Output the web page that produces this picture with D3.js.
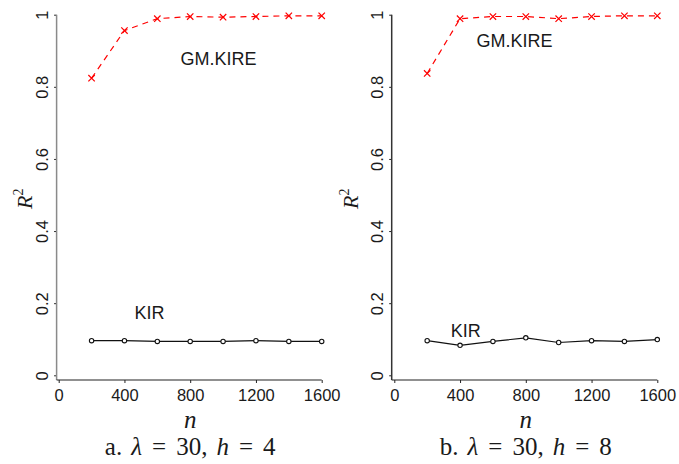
<!DOCTYPE html>
<html>
<head>
<meta charset="utf-8">
<script src="https://d3js.org/d3.v7.min.js"></script>
<style>
  body { margin: 0; background: #fff; }
  svg text { fill: #1a1a1a; }
  .tick text { font-family: "Liberation Sans", Arial, sans-serif; font-size: 16.5px; }
  .lbl { font-family: "Liberation Sans", Arial, sans-serif; font-size: 18px; }
  .math { font-family: "Liberation Serif", "DejaVu Serif", serif; }
</style>
</head>
<body>
<svg id="chart" width="679" height="464"></svg>
<script>
// sample sizes on x axis
var nValues = [200, 400, 600, 800, 1000, 1200, 1400, 1600];
var xTicks = [0, 400, 800, 1200, 1600];
var yTicks = [0, 0.2, 0.4, 0.6, 0.8, 1];

// panel a: lambda = 30, h = 4
var kireA = [0.824, 0.956, 0.989, 0.995, 0.993, 0.995, 0.997, 0.997];
var kirA  = [0.096, 0.096, 0.094, 0.094, 0.094, 0.096, 0.094, 0.094];

// panel b: lambda = 30, h = 8
var kireB = [0.837, 0.989, 0.995, 0.995, 0.989, 0.995, 0.997, 0.997];
var kirB  = [0.096, 0.083, 0.094, 0.104, 0.091, 0.096, 0.094, 0.099];

var svg = d3.select("#chart");

var panels = [
    { left: 58.7, axisX: 56.6, axisColor: "#8a8a8a", kire: kireA, kir: kirA,
      capLetter: "a.", h: "4", kireLbl: [972, 0.861], kirLbl: [552, 0.156], rx: 32 },
    { left: 394.3, axisX: 391.7, axisColor: "#333", kire: kireB, kir: kirB,
      capLetter: "b.", h: "8", kireLbl: [732, 0.911], kirLbl: [434, 0.107], rx: 358 }
];

var plotW = 263, plotTop = 14.7, plotBottom = 375.3, xAxisY = 380;

panels.forEach(function(p) {
    var g = svg.append("g");

    var xScale = d3.scaleLinear().domain([0, 1600]).range([p.left, p.left + plotW]);
    var yScale = d3.scaleLinear().domain([0, 1]).range([plotBottom, plotTop]);

    // Y axis
    var yAxis = g.append("g")
        .attr("transform", "translate(" + p.axisX + ",0)")
        .call(d3.axisLeft(yScale).tickValues(yTicks).tickSize(2.5)
            .tickFormat(function(d) { return d3.format("~g")(d); }));
    yAxis.select(".domain").remove();
    yAxis.selectAll(".tick line").attr("stroke", "#222");
    yAxis.selectAll(".tick text")
        .attr("x", null).attr("dy", null)
        .attr("text-anchor", "middle")
        .attr("transform", "translate(-9,0) rotate(-90)");
    g.append("line")
        .attr("x1", p.axisX).attr("x2", p.axisX)
        .attr("y1", plotTop).attr("y2", xAxisY)
        .attr("stroke", p.axisColor).attr("stroke-width", 1.5);

    // X axis
    var xAxis = g.append("g")
        .attr("transform", "translate(0," + xAxisY + ")")
        .call(d3.axisBottom(xScale).tickValues(xTicks).tickSize(3).tickPadding(6)
            .tickFormat(d3.format("d")));
    xAxis.select(".domain").remove();
    xAxis.selectAll(".tick line").attr("stroke", "#222");
    g.append("line")
        .attr("x1", p.axisX).attr("x2", xScale(1600))
        .attr("y1", xAxisY).attr("y2", xAxisY)
        .attr("stroke", "#222").attr("stroke-width", 1.2);

    var line = d3.line()
        .x(function(d, i) { return xScale(nValues[i]); })
        .y(function(d) { return yScale(d); });

    // GM.KIRE: red dashed with x markers
    g.append("path").datum(p.kire)
        .attr("d", line).attr("fill", "none")
        .attr("stroke", "#ff0000").attr("stroke-width", 1.2)
        .attr("stroke-dasharray", "6,5");
    g.append("g").selectAll("path").data(p.kire).enter().append("path")
        .attr("d", function(d, i) {
            var cx = xScale(nValues[i]), cy = yScale(d), s = 3.2;
            return "M" + (cx - s) + "," + (cy - s) + "L" + (cx + s) + "," + (cy + s) +
                   "M" + (cx - s) + "," + (cy + s) + "L" + (cx + s) + "," + (cy - s);
        })
        .attr("stroke", "#ff0000").attr("stroke-width", 1.2);

    // KIR: black solid with open circles
    g.append("path").datum(p.kir)
        .attr("d", line).attr("fill", "none")
        .attr("stroke", "#111").attr("stroke-width", 1.2);
    g.append("g").selectAll("circle").data(p.kir).enter().append("circle")
        .attr("cx", function(d, i) { return xScale(nValues[i]); })
        .attr("cy", function(d) { return yScale(d); })
        .attr("r", 2.2)
        .attr("fill", "#fff").attr("stroke", "#111").attr("stroke-width", 1.1);

    // series labels
    g.append("text").attr("class", "lbl")
        .attr("x", xScale(p.kireLbl[0])).attr("y", yScale(p.kireLbl[1]))
        .attr("text-anchor", "middle").text("GM.KIRE");
    g.append("text").attr("class", "lbl")
        .attr("x", xScale(p.kirLbl[0])).attr("y", yScale(p.kirLbl[1]))
        .attr("text-anchor", "middle").text("KIR");

    // axis titles
    var yt = g.append("text").attr("class", "math")
        .attr("transform", "translate(" + p.rx + ",209) rotate(-90)")
        .style("font-size", "22px");
    yt.append("tspan").style("font-style", "italic").text("R");
    yt.append("tspan").attr("dy", -9).style("font-size", "14px").text("2");

    g.append("text").attr("class", "math")
        .attr("x", xScale(800)).attr("y", 428)
        .attr("text-anchor", "middle")
        .style("font-size", "25px").style("font-style", "italic").text("n");

    // caption, math-style spacing around "="
    var cap = g.append("text").attr("class", "math")
        .attr("x", xScale(800)).attr("y", 455)
        .attr("text-anchor", "middle")
        .style("font-size", "25px");
    var parts = [
        { t: p.capLetter, dx: 0, it: false },
        { t: "\u03bb", dx: 9, it: true },
        { t: "=", dx: 10, it: false },
        { t: "30,", dx: 10, it: false },
        { t: "h", dx: 9, it: true },
        { t: "=", dx: 10, it: false },
        { t: p.h, dx: 10, it: false }
    ];
    parts.forEach(function(s) {
        cap.append("tspan").attr("dx", s.dx)
            .style("font-style", s.it ? "italic" : "normal").text(s.t);
    });
});
</script>
</body>
</html>
